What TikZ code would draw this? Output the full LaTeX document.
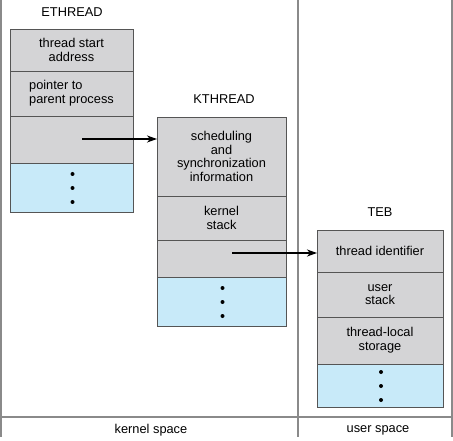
\documentclass[tikz,border=0pt]{standalone}
\usepackage{fontspec}
\setmainfont{Liberation Sans}
\usetikzlibrary{arrows.meta}
\definecolor{cellgray}{HTML}{D4D4D6}
\definecolor{cellblue}{HTML}{C8EAF9}
\definecolor{edgecol}{HTML}{555555}
\definecolor{framecol}{HTML}{8A8A8A}
\begin{document}
\begin{tikzpicture}[x=1bp,y=-1bp,
  font=\fontsize{12.8bp}{13.7bp}\selectfont,
  cell/.style={draw=edgecol, line width=0.9bp, fill=cellgray, inner sep=0pt, outer sep=0pt, align=center},
  bluecell/.style={cell, fill=cellblue},
  ecol/.style={minimum width=123bp},
  kcol/.style={minimum width=129bp},
  tcol/.style={minimum width=126bp},
  title/.style={inner sep=0pt},
  ptr/.style={line width=1.2bp, -{Stealth[length=10bp,width=7bp,inset=3bp]}},
  framel/.style={draw=framecol, line width=1.3bp},
  dot/.style={fill=black}]
\useasboundingbox (0,0) rectangle (453,441);
% frame
\draw[framel] (1,0) -- (1,437);
\draw[framel] (298,0) -- (298,437);
\draw[framel] (452,0) -- (452,437);
\draw[framel] (1,417) -- (452,417);
\node[title] (ks) at (151,430) {kernel space};
\node[title] (us) at (378,430) {user space};
% ETHREAD
\node[title] (eth) at (72,12) {ETHREAD};
\node[cell,ecol,minimum height=42bp] (e1) at (71.5,50) {thread start\\address};
\node[cell,ecol,minimum height=45bp,align=left] (e2) at (71.5,93.5) {pointer to\\parent process};
\node[cell,ecol,minimum height=47bp] (e3) at (71.5,139.5) {};
\node[bluecell,ecol,minimum height=49bp] (e4) at (71.5,187.5) {};
% KTHREAD
\node[title] (kth) at (224,99) {KTHREAD};
\node[cell,kcol,minimum height=79bp] (k1) at (221.5,156.5) {scheduling\\and\\synchronization\\information};
\node[cell,kcol,minimum height=44bp] (k2) at (221.5,218) {kernel\\stack};
\node[cell,kcol,minimum height=37bp] (k3) at (221.5,258.5) {};
\node[bluecell,kcol,minimum height=49bp] (k4) at (221.5,301.5) {};
% TEB
\node[title] (teb) at (380,212) {TEB};
\node[cell,tcol,minimum height=42bp] (t1) at (380,251) {thread identifier};
\node[cell,tcol,minimum height=45bp] (t2) at (380,294.5) {user\\stack};
\node[cell,tcol,minimum height=47bp] (t3) at (380,340.5) {thread-local\\storage};
\node[bluecell,tcol,minimum height=43bp] (t4) at (380,385.5) {};
% dots
\foreach \n in {e4,k4,t4}{
  \foreach \dy in {-13.5,0.5,14.5}{
    \fill[dot,shift={(\n.center)}] (1,\dy) circle (2bp);
  }
}
% pointers
\coordinate (a1) at (82,139);
\coordinate (a2) at (232,253);
\draw[ptr] (a1) -- (a1 -| k1.west);
\draw[ptr] (a2) -- (a2 -| t1.west);
\end{tikzpicture}
\end{document}
